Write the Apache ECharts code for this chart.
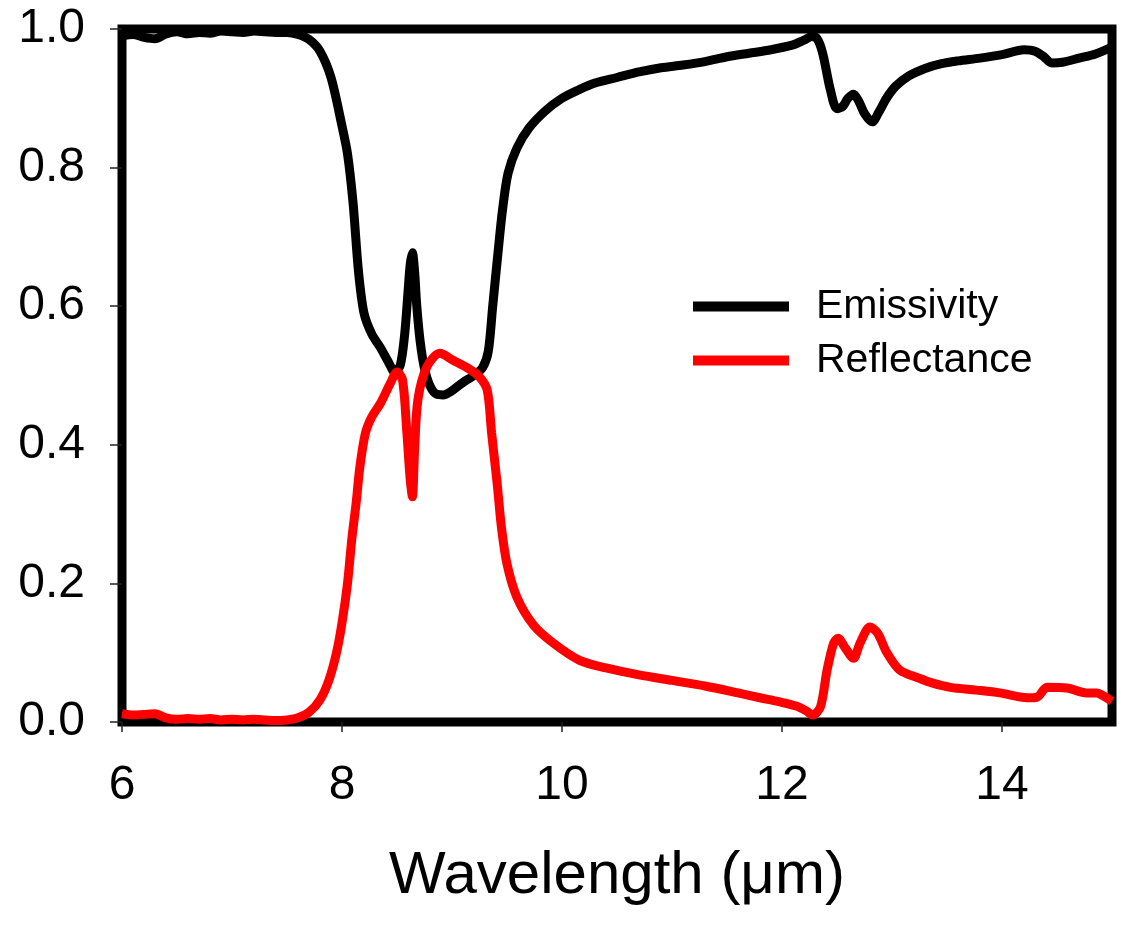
<!DOCTYPE html>
<html>
<head>
<meta charset="utf-8">
<script src="https://cdn.jsdelivr.net/npm/echarts@6/dist/echarts.min.js"></script>
<style>
  html, body { margin: 0; padding: 0; background: #fff; }
  #chart { width: 1124px; height: 928px; }
</style>
</head>
<body>
<div id="chart"></div>
<script>
// emissivity curve (black)
const emisX = [6.0, 6.1, 6.2, 6.3, 6.4, 6.5, 6.6, 6.7, 6.8, 6.9, 7.0, 7.1, 7.2, 7.3, 7.4, 7.5, 7.6, 7.7, 7.8, 7.9,
  8.0, 8.05, 8.1, 8.15, 8.2, 8.27, 8.35, 8.42, 8.48, 8.53, 8.57, 8.6, 8.62, 8.64, 8.66, 8.68, 8.71, 8.75, 8.8, 8.86,
  8.92, 9.0, 9.1, 9.2, 9.28, 9.33, 9.37, 9.42, 9.46, 9.51, 9.59, 9.7, 9.85, 10.0, 10.15, 10.3, 10.5, 10.7, 10.9, 11.1,
  11.3, 11.5, 11.7, 11.9, 12.1, 12.2, 12.27, 12.32, 12.37, 12.44, 12.5, 12.55, 12.6, 12.65, 12.7, 12.75, 12.82, 12.88, 12.95, 13.03,
  13.15, 13.3, 13.45, 13.6, 13.8, 14.0, 14.2, 14.3, 14.38, 14.45, 14.55, 14.7, 14.85, 15.0];
const emisY = [0.990, 0.992, 0.988, 0.986, 0.993, 0.996, 0.993, 0.995, 0.994, 0.997, 0.996, 0.995, 0.997, 0.996, 0.995, 0.995, 0.992, 0.985, 0.968, 0.930,
  0.860, 0.820, 0.750, 0.650, 0.590, 0.560, 0.540, 0.520, 0.505, 0.515, 0.560, 0.620, 0.660, 0.677, 0.650, 0.600, 0.550, 0.510, 0.485, 0.473,
  0.472, 0.478, 0.490, 0.500, 0.512, 0.535, 0.600, 0.680, 0.740, 0.792, 0.828, 0.857, 0.882, 0.900, 0.912, 0.922, 0.930, 0.938, 0.944, 0.948,
  0.953, 0.960, 0.965, 0.970, 0.977, 0.984, 0.989, 0.986, 0.965, 0.912, 0.885, 0.888, 0.900, 0.906, 0.895, 0.878, 0.866, 0.880, 0.900, 0.917,
  0.932, 0.943, 0.950, 0.954, 0.958, 0.963, 0.970, 0.968, 0.960, 0.951, 0.952, 0.958, 0.964, 0.974];

// reflectance curve (red)
const reflX = [6.0, 6.1, 6.2, 6.3, 6.4, 6.5, 6.6, 6.7, 6.8, 6.9, 7.0, 7.1, 7.2, 7.3, 7.4, 7.5, 7.6, 7.7, 7.8, 7.88,
  7.95, 8.0, 8.05, 8.09, 8.13, 8.16, 8.21, 8.27, 8.35, 8.44, 8.5, 8.55, 8.59, 8.62, 8.64, 8.66, 8.69, 8.77, 8.89, 9.01,
  9.14, 9.25, 9.32, 9.36, 9.41, 9.45, 9.5, 9.59, 9.74, 9.92, 10.16, 10.4, 10.7, 11.0, 11.3, 11.6, 11.8, 11.98, 12.13, 12.22,
  12.28, 12.35, 12.41, 12.47, 12.51, 12.57, 12.65, 12.71, 12.8, 12.87, 12.95, 13.07, 13.25, 13.37, 13.53, 13.77, 13.98, 14.23, 14.32, 14.41,
  14.59, 14.77, 14.86, 14.95, 15.0];
const reflY = [0.012, 0.010, 0.011, 0.012, 0.006, 0.004, 0.005, 0.004, 0.005, 0.003, 0.004, 0.003, 0.004, 0.003, 0.002, 0.003, 0.006, 0.014, 0.032, 0.060,
  0.100, 0.143, 0.200, 0.265, 0.318, 0.365, 0.415, 0.440, 0.460, 0.489, 0.505, 0.494, 0.417, 0.350, 0.325, 0.393, 0.465, 0.512, 0.532, 0.522,
  0.511, 0.498, 0.479, 0.417, 0.345, 0.280, 0.228, 0.180, 0.140, 0.114, 0.089, 0.078, 0.068, 0.060, 0.052, 0.042, 0.035, 0.029, 0.023, 0.016,
  0.010, 0.022, 0.075, 0.114, 0.121, 0.108, 0.092, 0.114, 0.137, 0.128, 0.101, 0.075, 0.063, 0.056, 0.050, 0.046, 0.042, 0.035, 0.036, 0.050,
  0.049, 0.042, 0.042, 0.035, 0.030];

const xTicks = [6, 8, 10, 12, 14];
const yTicks = [0.0, 0.2, 0.4, 0.6, 0.8, 1.0];

const pair = (xs, ys) => xs.map((x, i) => [x, ys[i]]);
const font = '"Liberation Sans", Arial, sans-serif';

const chart = echarts.init(document.getElementById('chart'), null, { renderer: 'canvas' });

chart.setOption({
  backgroundColor: '#fff',
  animation: false,
  grid: {
    left: 122,
    right: 12,
    top: 29,
    bottom: 206,
    show: true,
    borderColor: '#000',
    borderWidth: 9,
    backgroundColor: 'transparent'
  },
  legend: {
    orient: 'vertical',
    left: 688,
    top: 281,
    itemWidth: 96,
    itemHeight: 10,
    itemGap: 13,
    icon: 'rect',
    textStyle: {
      fontFamily: font,
      fontSize: 41,
      lineHeight: 41,
      color: '#000',
      padding: [0, 0, 0, 22]
    },
    data: ['Emissivity', 'Reflectance']
  },
  xAxis: {
    type: 'value',
    min: 6,
    max: 15,
    interval: 2,
    name: 'Wavelength (μm)',
    nameLocation: 'middle',
    nameGap: 124,
    nameTextStyle: { fontFamily: font, fontSize: 60, color: '#000' },
    axisLine: { show: false },
    axisTick: { show: true, length: 10, lineStyle: { color: '#222', width: 1.5 } },
    axisLabel: {
      margin: 40,
      fontFamily: font,
      fontSize: 48,
      color: '#000',
      showMaxLabel: false,
      formatter: v => (xTicks.includes(v) ? String(v) : '')
    },
    splitLine: { show: false }
  },
  yAxis: {
    type: 'value',
    min: 0,
    max: 1,
    interval: 0.2,
    axisLine: { show: false },
    axisTick: { show: true, length: 12, lineStyle: { color: '#222', width: 1.5 } },
    axisLabel: {
      margin: 37,
      fontFamily: font,
      fontSize: 48,
      color: '#000',
      formatter: v => yTicks.find(t => Math.abs(t - v) < 1e-6).toFixed(1)
    },
    splitLine: { show: false }
  },
  series: [
    {
      name: 'Emissivity',
      type: 'line',
      data: pair(emisX, emisY),
      showSymbol: false,
      smooth: 0.3,
      clip: false,
      color: '#000',
      lineStyle: { color: '#000', width: 9 }
    },
    {
      name: 'Reflectance',
      type: 'line',
      data: pair(reflX, reflY),
      showSymbol: false,
      smooth: 0.3,
      clip: false,
      color: '#ff0000',
      lineStyle: { color: '#ff0000', width: 9 }
    }
  ]
});
</script>
</body>
</html>
